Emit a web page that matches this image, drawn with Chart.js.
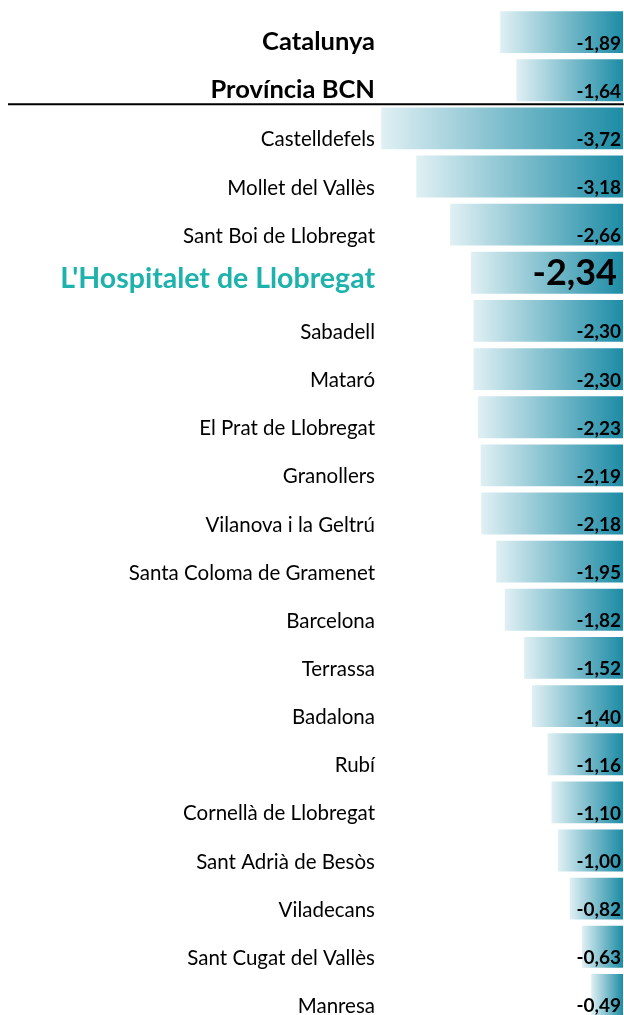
<!DOCTYPE html>
<html>
<head>
<meta charset="utf-8">
<script src="https://cdn.jsdelivr.net/npm/chart.js@4/dist/chart.umd.min.js"></script>
<style>
  html, body { margin: 0; padding: 0; background: #fff; overflow: hidden; }
  #wrap { position: relative; width: 624px; height: 1019px; }
</style>
</head>
<body>
<div id="wrap"><canvas id="chart"></canvas></div>
<script>
// Municipis i valors (variació), llegits del gràfic
const categories = [
  "Catalunya", "Província BCN", "Castelldefels", "Mollet del Vallès", "Sant Boi de Llobregat",
  "L'Hospitalet de Llobregat", "Sabadell", "Mataró", "El Prat de Llobregat", "Granollers",
  "Vilanova i la Geltrú", "Santa Coloma de Gramenet", "Barcelona", "Terrassa", "Badalona",
  "Rubí", "Cornellà de Llobregat", "Sant Adrià de Besòs", "Viladecans", "Sant Cugat del Vallès", "Manresa"
];
const values = [
  -1.89, -1.64, -3.72, -3.18, -2.66,
  -2.34, -2.30, -2.30, -2.23, -2.19,
  -2.18, -1.95, -1.82, -1.52, -1.40,
  -1.16, -1.10, -1.00, -0.82, -0.63, -0.49
];
const totals = ["Catalunya", "Província BCN"];
const highlight = "L'Hospitalet de Llobregat";

const FONT = "Lato, 'Open Sans', sans-serif";
const barLight = "#e0f0f4";
const barDark = "#1d8ca6";
const teal = "#1db3ac";

const fmt = v => v.toFixed(2).replace(".", ",");

// Degradat horitzontal per a cada barra: clar a l'esquerra, fosc a la dreta
function barGradient(ctx) {
  const chart = ctx.chart;
  const x = chart.scales.x;
  if (!x || ctx.type !== "data") return barDark;
  const left = x.getPixelForValue(ctx.raw);
  const right = x.getPixelForValue(0);
  if (!isFinite(left) || !isFinite(right)) return barDark;
  const g = chart.ctx.createLinearGradient(left, 0, right, 0);
  g.addColorStop(0, barLight);
  g.addColorStop(1, barDark);
  return g;
}

// Etiquetes dels municipis, valors i línia separadora
const rowText = {
  id: "rowText",
  afterDatasetsDraw(chart) {
    const { ctx, chartArea, scales: { y } } = chart;
    const meta = chart.getDatasetMeta(0);
    ctx.save();
    ctx.textAlign = "right";
    ctx.textBaseline = "alphabetic";
    categories.forEach((name, i) => {
      const cy = y.getPixelForValue(i);
      const isTotal = totals.includes(name);
      const isHigh = name === highlight;
      ctx.fillStyle = isHigh ? teal : "#000";
      ctx.font = isHigh ? `bold 28.5px ${FONT}` : isTotal ? `bold 25.5px ${FONT}` : `20.5px ${FONT}`;
      ctx.fillText(name, chartArea.left - 1, cy + (isHigh ? 15 : 18));

      const bar = meta.data[i];
      ctx.fillStyle = "#000";
      ctx.font = isHigh ? `bold 36px ${FONT}` : `bold 19px ${FONT}`;
      ctx.fillText(fmt(values[i]), bar.base - 4 + (isHigh ? -2 : 2), cy + (isHigh ? 12 : 17.5));
    });
    const ly = (y.getPixelForValue(1) + y.getPixelForValue(2)) / 2;
    ctx.beginPath();
    ctx.moveTo(8, ly);
    ctx.lineTo(chart.width, ly);
    ctx.lineWidth = 2;
    ctx.strokeStyle = "#000";
    ctx.stroke();
    ctx.restore();
  }
};

new Chart(document.getElementById("chart"), {
  type: "bar",
  data: {
    labels: categories,
    datasets: [{
      data: values,
      backgroundColor: barGradient,
      borderWidth: 0,
      barPercentage: 0.87,
      categoryPercentage: 1
    }]
  },
  options: {
    indexAxis: "y",
    responsive: true,
    maintainAspectRatio: false,
    animation: false,
    layout: { padding: { left: 376, right: 1, top: 8, bottom: 0 } },
    plugins: { legend: { display: false }, tooltip: { enabled: false } },
    scales: {
      x: { min: -3.8, max: 0, display: false },
      y: { display: false }
    }
  },
  plugins: [rowText]
});
</script>
</body>
</html>
